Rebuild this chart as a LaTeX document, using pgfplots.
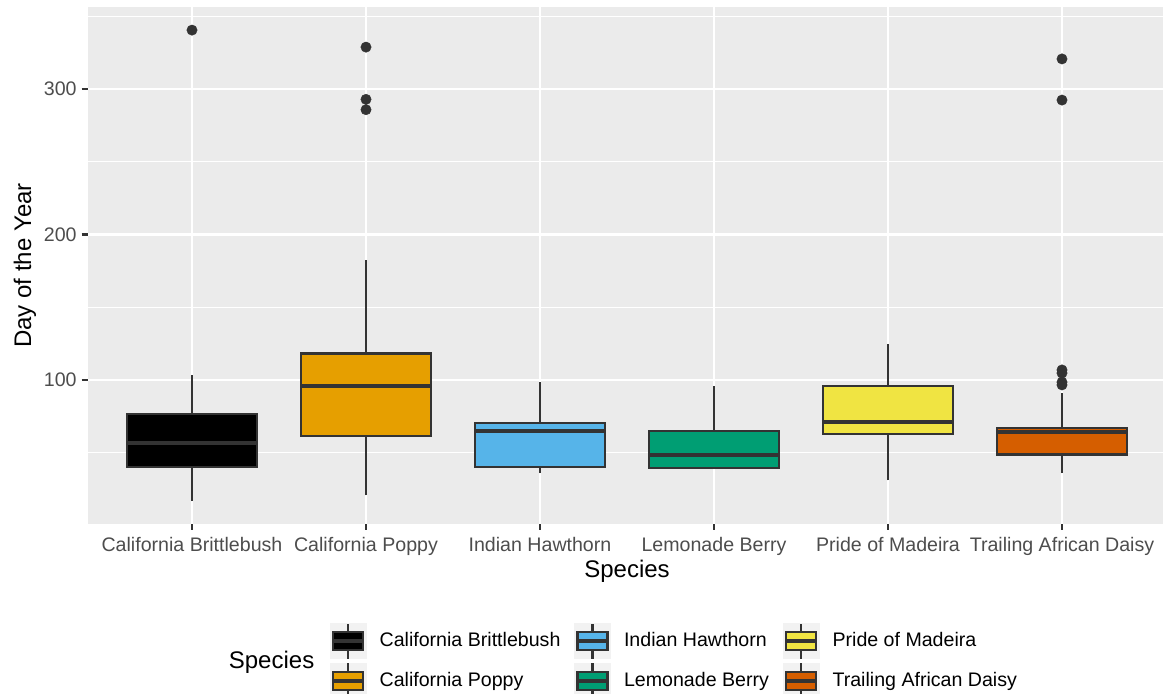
\documentclass[border=0pt]{standalone}
\usepackage{pgfplots}
\pgfplotsset{compat=1.18}
\usepackage{fontspec}
\setmainfont{Liberation Sans}
\definecolor{cBB}{HTML}{000000}
\definecolor{cCP}{HTML}{E69F00}
\definecolor{cIH}{HTML}{56B4E9}
\definecolor{cLB}{HTML}{009E73}
\definecolor{cPM}{HTML}{F0E442}
\definecolor{cTD}{HTML}{D55E00}
\definecolor{g20}{HTML}{333333}
\definecolor{g30}{HTML}{4D4D4D}
\definecolor{bgc}{HTML}{EBEBEB}
\definecolor{keyc}{HTML}{F2F2F2}
\newcommand{\keyimg}[1]{%
  \fill[keyc] (0pt,-8.75pt) rectangle (18pt,8.75pt);
  \draw[g20, line width=1.07pt] (9pt,-8.75pt) -- (9pt,8.75pt);
  \draw[g20, line width=1.07pt, fill=#1] (1.5pt,-4.5pt) rectangle (16.5pt,4.5pt);
  \draw[g20, line width=2.13pt] (1.5pt,0pt) -- (16.5pt,0pt);
}
\pgfplotsset{
  wsk/.style={draw=g20, line width=1.07pt, forget plot},
  box/.style={draw=g20, fill=#1, line width=1.07pt, line join=miter, forget plot},
  med/.style={draw=g20, line width=2.13pt, line cap=butt, forget plot},
  outl/.style={only marks, mark=*, mark size=2.6pt, mark options={fill=g20, draw=g20, line width=0.2pt}, forget plot},
}
\begin{document}
\begin{tikzpicture}
\path[use as bounding box] (0,0) rectangle (581.5pt,347pt);
\begin{axis}[
  at={(43.8pt,85pt)}, anchor=south west,
  scale only axis, width=539.4pt, height=258.5pt,
  xmin=0.4, xmax=6.6, ymin=1, ymax=356.4,
  axis background/.style={fill=bgc},
  axis line style={draw=none},
  xtick={1,2,3,4,5,6},
  xticklabels={California Brittlebush,California Poppy,Indian Hawthorn,Lemonade Berry,Pride of Madeira,Trailing African Daisy},
  ytick={100,200,300},
  minor ytick={50,150,250,350},
  grid=both,
  major grid style={white, line width=1.1pt},
  minor grid style={white, line width=0.55pt},
  tick align=outside,
  xtick pos=bottom, ytick pos=left,
  major tick length=3pt, minor tick length=0pt,
  major tick style={g20, line width=1.1pt},
  /pgf/number format/assume math mode=true,
  tick label style={font=\fontsize{9.8}{11}\selectfont, text=g30, inner sep=0pt},
  xticklabel style={anchor=north, yshift=-3.3pt},
  yticklabel style={anchor=east, xshift=-2.3pt},
  xlabel={Species}, ylabel={Day of the Year},
  label style={font=\fontsize{12}{14}\selectfont, inner sep=0pt},
  xlabel style={at={(axis description cs:0.5,-0.092)}, anchor=center},
  ylabel style={at={(axis description cs:-0.058,0.5)}, anchor=center},
  legend columns=3,
  legend cell align=left,
  legend style={draw=none, fill=none, at={(axis description cs:0.2184,-0.1822)}, anchor=north west,
    font=\fontsize{9.8}{11}\selectfont,
    nodes={inner sep=0pt}, row sep=1.2pt,
    /tikz/every odd column/.append style={column sep=6.6pt},
    /tikz/every even column/.append style={column sep=6.8pt}},
  clip=false,
]
% California Brittlebush (x=1)
\addplot[wsk] coordinates {(1,16.8) (1,40.1)};
\addplot[wsk] coordinates {(1,76.9) (1,103.4)};
\addplot[box=cBB] coordinates {(0.625,40.1) (1.375,40.1) (1.375,76.9) (0.625,76.9)} --cycle;
\addplot[med] coordinates {(0.625,56.8) (1.375,56.8)};
\addplot[outl] coordinates {(1,340.5)};
% California Poppy (x=2)
\addplot[wsk] coordinates {(2,20.7) (2,61.7)};
\addplot[wsk] coordinates {(2,118.2) (2,182.7)};
\addplot[box=cCP] coordinates {(1.625,61.7) (2.375,61.7) (2.375,118.2) (1.625,118.2)} --cycle;
\addplot[med] coordinates {(1.625,96.1) (2.375,96.1)};
\addplot[outl] coordinates {(2,328.8) (2,292.9) (2,285.8)};
% Indian Hawthorn (x=3)
\addplot[wsk] coordinates {(3,36.0) (3,40.1)};
\addplot[wsk] coordinates {(3,70.3) (3,98.5)};
\addplot[box=cIH] coordinates {(2.625,40.1) (3.375,40.1) (3.375,70.3) (2.625,70.3)} --cycle;
\addplot[med] coordinates {(2.625,64.9) (3.375,64.9)};
% Lemonade Berry (x=4)
\addplot[wsk] coordinates {(4,64.7) (4,96.1)};
\addplot[box=cLB] coordinates {(3.625,39.6) (4.375,39.6) (4.375,64.7) (3.625,64.7)} --cycle;
\addplot[med] coordinates {(3.625,48.2) (4.375,48.2)};
% Pride of Madeira (x=5)
\addplot[wsk] coordinates {(5,31.0) (5,63.0)};
\addplot[wsk] coordinates {(5,96.1) (5,124.8)};
\addplot[box=cPM] coordinates {(4.625,63.0) (5.375,63.0) (5.375,96.1) (4.625,96.1)} --cycle;
\addplot[med] coordinates {(4.625,71.1) (5.375,71.1)};
% Trailing African Daisy (x=6)
\addplot[wsk] coordinates {(6,36.0) (6,48.8)};
\addplot[wsk] coordinates {(6,67.0) (6,91.0)};
\addplot[box=cTD] coordinates {(5.625,48.8) (6.375,48.8) (6.375,67.0) (5.625,67.0)} --cycle;
\addplot[med] coordinates {(5.625,64.0) (6.375,64.0)};
\addplot[outl] coordinates {(6,320.7) (6,292.4) (6,106.9) (6,104.7) (6,98.5) (6,96.6)};
% legend (ggplot order, filled by rows)
\addlegendimage{legend image code/.code={\keyimg{cBB}}}
\addlegendentry{California Brittlebush}
\addlegendimage{legend image code/.code={\keyimg{cIH}}}
\addlegendentry{Indian Hawthorn}
\addlegendimage{legend image code/.code={\keyimg{cPM}}}
\addlegendentry{Pride of Madeira}
\addlegendimage{legend image code/.code={\keyimg{cCP}}}
\addlegendentry{California Poppy}
\addlegendimage{legend image code/.code={\keyimg{cLB}}}
\addlegendentry{Lemonade Berry}
\addlegendimage{legend image code/.code={\keyimg{cTD}}}
\addlegendentry{Trailing African Daisy}
\node[font=\fontsize{12}{14}\selectfont, inner sep=0pt, anchor=west] at (axis description cs:0.1306,-0.2673) {Species};
\end{axis}
\end{tikzpicture}
\end{document}
